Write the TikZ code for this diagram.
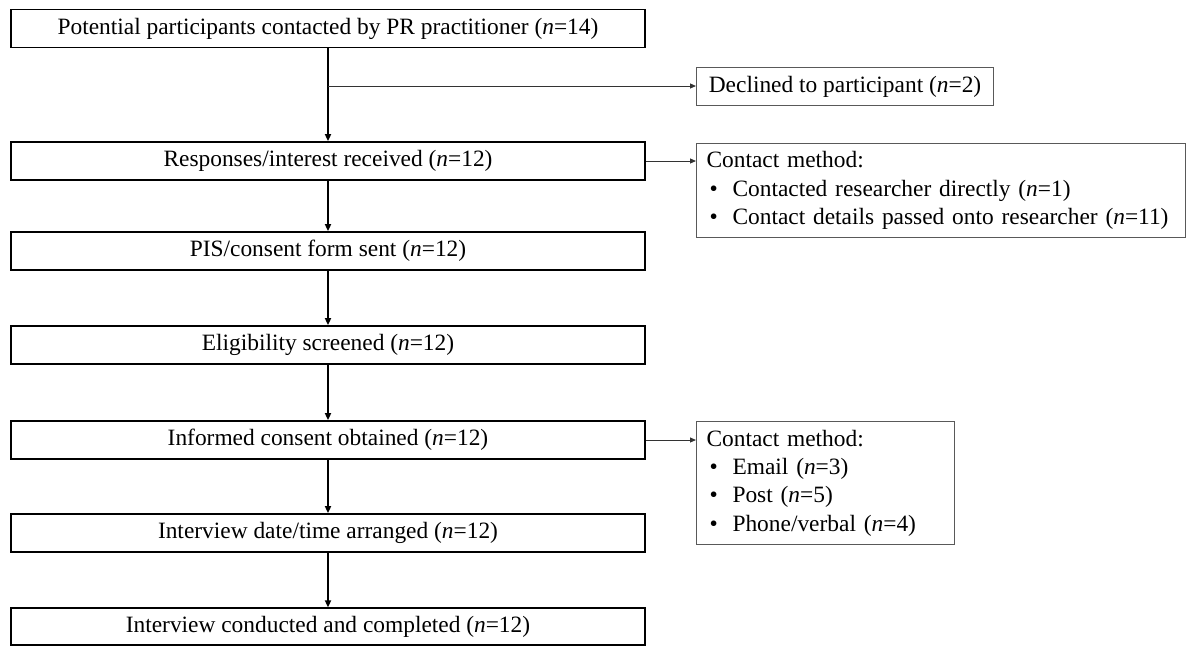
\documentclass[tikz,border=0pt]{standalone}
\usepackage{fontspec}
\setmainfont{Liberation Serif}
\usetikzlibrary{arrows.meta}
\begin{document}
\begin{tikzpicture}[x=1pt,y=-1pt,
  font=\fontsize{23.4}{28.3}\selectfont,
  stage/.style={draw=black, line width=1.8pt, minimum width=634pt,
    minimum height=38pt, inner sep=0pt},
  sidebox/.style={draw=black!65, line width=1.1pt, anchor=north west,
    inner xsep=10pt, inner ysep=0pt, align=left},
  trunk/.style={line width=1.8pt, -{Triangle[length=7pt,width=6pt]}},
  branch/.style={draw=black!80, line width=1pt,
    -{Triangle[length=6pt,width=5pt]}}]
\useasboundingbox (0,0) rectangle (1187,646);

% main sequence of stages
\node[stage] (n1) at (328,28.5) {Potential participants contacted by PR practitioner (\textit{n}=14)};
\node[stage] (n2) at (328,161)  {Responses/interest received (\textit{n}=12)};
\node[stage] (n3) at (328,251)  {PIS/consent form sent (\textit{n}=12)};
\node[stage] (n4) at (328,345)  {Eligibility screened (\textit{n}=12)};
\node[stage] (n5) at (328,440)  {Informed consent obtained (\textit{n}=12)};
\node[stage] (n6) at (328,533)  {Interview date/time arranged (\textit{n}=12)};
\node[stage, minimum height=36.5pt] (n7) at (328,626.5) {Interview conducted and completed (\textit{n}=12)};

% side boxes
\node[sidebox, minimum width=297pt, minimum height=38pt]
  (dec) at (696,67) {Declined to participant (\textit{n}=2)};
\node[sidebox, minimum width=489pt, minimum height=94pt, text width=469pt]
  (cm1) at (696,143) {Contact method:\\
  \hspace*{3pt}\makebox[23pt][l]{•}Contacted researcher directly (\textit{n}=1)\\
  \hspace*{3pt}\makebox[23pt][l]{•}Contact details passed onto researcher (\textit{n}=11)};
\node[sidebox, minimum width=258pt, minimum height=123pt, text width=238pt]
  (cm2) at (696,421) {Contact method:\\
  \hspace*{3pt}\makebox[23pt][l]{•}Email (\textit{n}=3)\\
  \hspace*{3pt}\makebox[23pt][l]{•}Post (\textit{n}=5)\\
  \hspace*{3pt}\makebox[23pt][l]{•}Phone/verbal (\textit{n}=4)};

% connectors
\draw[trunk] (n1) -- (n2);
\draw[trunk] (n2) -- (n3);
\draw[trunk] (n3) -- (n4);
\draw[trunk] (n4) -- (n5);
\draw[trunk] (n5) -- (n6);
\draw[trunk] (n6) -- (n7);

\coordinate (fork) at (328,86);
\draw[branch] (fork) -- (fork -| dec.west);
\draw[branch] (n2.east) -- (n2.east -| cm1.west);
\draw[branch] (n5.east) -- (n5.east -| cm2.west);
\end{tikzpicture}
\end{document}
